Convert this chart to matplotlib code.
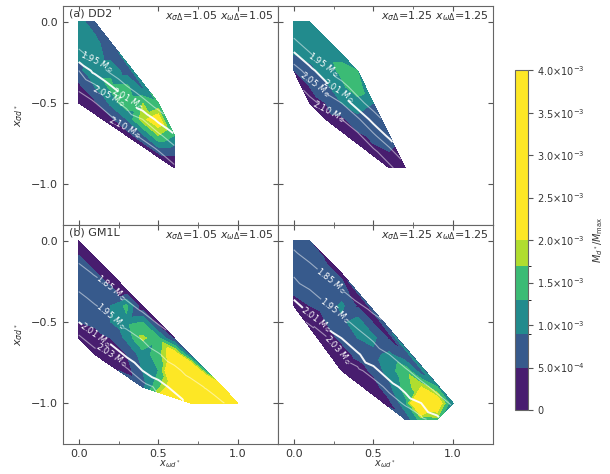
import numpy as np
import matplotlib
matplotlib.use("Agg")
import matplotlib.pyplot as plt
import matplotlib.tri as mtri
from matplotlib.colors import ListedColormap, BoundaryNorm
from matplotlib.cm import ScalarMappable
from matplotlib.ticker import MultipleLocator

n = np.nan

# grid of coupling ratios
x_vals = [0.0, 0.1, 0.2, 0.3, 0.4, 0.5, 0.6, 0.7, 0.8, 0.9, 1.0]
y_vals = [0.0, -0.1, -0.2, -0.3, -0.4, -0.5, -0.6, -0.7, -0.8, -0.9, -1.0, -1.1]

# M_d*/M_max in units of 1e-3, one row per y value, starting at x = 0
frac_dd2_105 = [
    [1.1, 0.6],
    [1.1, 1.0],
    [1.0, 1.1, 0.7],
    [0.8, 1.2, 1.2, 0.7],
    [0.4, 0.9, 1.4, 1.4, 0.8],
    [0.3, 0.4, 1.0, 1.6, 1.7, 1.4],
    [n, n, 0.4, 0.9, 1.9, 2.3],
    [n, n, n, 0.3, 0.8, 1.7, 1.3],
    [n, n, n, n, n, 0.6, 0.6],
    [n, n, n, n, n, n, 0.2],
]
mass_dd2_105 = [
    [1.83, 1.78],
    [1.90, 1.85],
    [1.975, 1.915, 1.865],
    [2.05, 1.997, 1.935, 1.88],
    [2.092, 2.06, 2.017, 1.955, 1.90],
    [2.12, 2.102, 2.07, 2.033, 1.975, 1.915],
    [n, n, 2.108, 2.081, 2.05, 1.997],
    [n, n, n, 2.114, 2.092, 2.06, 2.017],
    [n, n, n, n, n, 2.102, 2.07],
    [n, n, n, n, n, n, 2.108],
]

frac_dd2_125 = [
    [1.2, 1.1],
    [1.1, 1.0, 1.1],
    [0.9, 1.0, 1.2, 1.2],
    [0.5, 0.8, 1.1, 1.4, 1.3],
    [n, 0.5, 0.8, 1.2, 1.6],
    [n, 0.3, 0.5, 0.9, 1.1, 0.9],
    [n, n, 0.3, 0.4, 0.8, 0.9],
    [n, n, n, n, 0.4, 0.6, 0.6],
    [n, n, n, n, n, 0.4, 0.5],
    [n, n, n, n, n, n, 0.3, 0.3],
]
mass_dd2_125 = [
    [1.87, 1.80],
    [1.95, 1.88, 1.81],
    [2.02, 1.96, 1.89, 1.82],
    [2.07, 2.03, 1.97, 1.90, 1.83],
    [n, 2.07, 2.03, 1.98, 1.91],
    [n, 2.12, 2.08, 2.05, 1.98, 1.91],
    [n, n, 2.13, 2.10, 2.06, 1.99],
    [n, n, n, n, 2.11, 2.06, 1.995],
    [n, n, n, n, n, 2.11, 2.07],
    [n, n, n, n, n, n, 2.11, 2.07],
]

frac_gm1l_105 = [
    [0.1],
    [0.55, 0.1],
    [0.7, 0.55, 0.1],
    [0.7, 0.7, 0.6, 0.15],
    [0.6, 0.8, 0.9, 1.4, 0.2],
    [0.5, 0.6, 0.9, 1.2, 1.3, 0.2],
    [0.3, 0.3, 0.5, 1.0, 1.8, 1.4, 0.4],
    [n, 0.2, 0.3, 0.5, 1.1, 1.5, 2.5, 0.7],
    [n, n, n, 0.3, 0.9, 1.3, 3.0, 3.5, 1.2],
    [n, n, n, n, 0.8, 1.6, 2.4, 4.0, 4.0, 2.5],
    [n, n, n, n, n, n, n, 4.0, 4.0, 4.0, 4.0],
]
mass_gm1l_105 = [
    [1.76],
    [1.825, 1.776],
    [1.89, 1.841, 1.79],
    [1.945, 1.904, 1.86, 1.81],
    [1.985, 1.955, 1.92, 1.87, 1.825],
    [2.01, 1.991, 1.965, 1.93, 1.89, 1.84],
    [2.035, 2.015, 1.998, 1.975, 1.945, 1.905, 1.86],
    [n, 2.04, 2.03, 2.005, 1.985, 1.955, 1.92, 1.87],
    [n, n, n, 2.035, 2.01, 1.99, 1.965, 1.93, 1.89],
    [n, n, n, n, 2.04, 2.025, 2.0, 1.975, 1.945, 1.905],
    [n, n, n, n, n, n, n, 2.005, 1.985, 1.955, 1.92],
]

frac_gm1l_125 = [
    [0.6, 0.5],
    [0.8, 0.8, 0.45],
    [0.7, 0.7, 0.6, 0.45],
    [0.6, 0.6, 0.7, 0.6],
    [0.3, 0.5, 0.6, 1.0, 0.45],
    [n, 0.3, 0.5, 0.8, 1.1, 0.45],
    [n, n, 0.3, 0.6, 0.9, 1.0, 0.45],
    [n, n, n, 0.3, 0.6, 0.8, 1.0, 0.5],
    [n, n, n, 0.2, 0.3, 0.6, 1.1, 1.6, 0.6],
    [n, n, n, n, n, 0.3, 0.8, 1.5, 2.0, 1.3],
    [n, n, n, n, n, n, 0.4, 1.2, 3.5, 2.5, 0.9],
    [n, n, n, n, n, n, n, 0.6, 1.5, 1.6],
]
mass_gm1l_125 = [
    [1.82, 1.77],
    [1.875, 1.83, 1.78],
    [1.94, 1.89, 1.84, 1.80],
    [1.985, 1.95, 1.90, 1.85],
    [2.025, 1.99, 1.96, 1.915, 1.86],
    [n, 2.028, 2.00, 1.97, 1.93, 1.875],
    [n, n, 2.035, 2.01, 1.978, 1.94, 1.89],
    [n, n, n, 2.029, 2.015, 1.985, 1.95, 1.90],
    [n, n, n, 2.045, 2.035, 2.02, 1.99, 1.96, 1.915],
    [n, n, n, n, n, 2.04, 2.024, 2.00, 1.97, 1.93],
    [n, n, n, n, n, n, 2.04, 2.027, 2.01, 1.978, 1.94],
    [n, n, n, n, n, n, n, 2.045, 2.035, 2.02],
]

frac_levels = [0, 0.5e-3, 0.9e-3, 1.3e-3, 1.7e-3, 2.0e-3, 4.0e-3]
mass_levels_dd2 = [1.95, 2.01, 2.05, 2.10]
mass_levels_gm1l = [1.85, 1.95, 2.01, 2.03]
cbar_ticks = [0, 0.5e-3, 1.0e-3, 1.5e-3, 2.0e-3, 2.5e-3, 3.0e-3, 3.5e-3, 4.0e-3]
cbar_labels = ["0", r"5.0$\times10^{-4}$", r"1.0$\times10^{-3}$", r"1.5$\times10^{-3}$",
               r"2.0$\times10^{-3}$", r"2.5$\times10^{-3}$", r"3.0$\times10^{-3}$",
               r"3.5$\times10^{-3}$", r"4.0$\times10^{-3}$"]

# where the mass labels sit, one point per level
label_pos = [
    [(0.12, -0.22), (0.32, -0.43), (0.2, -0.42), (0.3, -0.63)],
    [(0.21, -0.22), (0.3, -0.38), (0.15, -0.36), (0.21, -0.58)],
    [(0.21, -0.28), (0.21, -0.46), (0.12, -0.57), (0.19, -0.72)],
    [(0.23, -0.25), (0.25, -0.44), (0.12, -0.52), (0.27, -0.68)],
]

panels = [
    ("(a) DD2", "1.05", frac_dd2_105, mass_dd2_105, mass_levels_dd2),
    (None, "1.25", frac_dd2_125, mass_dd2_125, mass_levels_dd2),
    ("(b) GM1L", "1.05", frac_gm1l_105, mass_gm1l_105, mass_levels_gm1l),
    (None, "1.25", frac_gm1l_125, mass_gm1l_125, mass_levels_gm1l),
]

cols = [plt.cm.viridis(v) for v in [0.08, 0.28, 0.48, 0.68, 0.88, 1.0]]
cmap = ListedColormap(cols)
norm = BoundaryNorm(frac_levels, cmap.N)
txt = "#333333"


def grid(rows):
    out = np.full((len(y_vals), len(x_vals)), np.nan)
    for i, r in enumerate(rows):
        out[i, :len(r)] = r
    return out


fig = plt.figure(figsize=(6.1, 4.74), dpi=100)
X, Y = np.meshgrid(x_vals, y_vals)
left, w = 0.103, 0.3525
bot, h = 0.064, 0.462

for k, (tag, xd, frac, mass, mlev) in enumerate(panels):
    r, c = divmod(k, 2)
    ax = fig.add_axes([left + c * w, bot + (1 - r) * h, w, h])
    F = grid(frac)
    M = grid(mass)
    ok = ~np.isnan(F)
    tri = mtri.Triangulation(X[ok], Y[ok])
    z = np.minimum(F[ok] * 1e-3, 3.99e-3)
    ax.tricontourf(tri, z, levels=frac_levels, colors=cols)
    for lv, pos in zip(mlev, label_pos[k]):
        if lv == 2.01:
            lc, lw = (1, 1, 1, 0.95), 1.4
        else:
            lc, lw = (1, 1, 1, 0.5), 0.8
        cs = ax.tricontour(tri, M[ok], levels=[lv], colors=[lc], linewidths=lw)
        ax.clabel(cs, fmt=lambda v: "%.2f $M_\\odot$" % v, fontsize=6,
                  colors="w", inline=True, manual=[pos])

    ax.set_xlim(-0.1, 1.25)
    ax.set_ylim(-1.25, 0.1)
    ax.xaxis.set_major_locator(MultipleLocator(0.5))
    ax.xaxis.set_minor_locator(MultipleLocator(0.25))
    ax.yaxis.set_major_locator(MultipleLocator(0.5))
    ax.tick_params(which="both", direction="in", top=True, right=True,
                   labelsize=8, labelcolor=txt, color="#555555")
    for s in ax.spines.values():
        s.set_color("#666666")
    if r == 0:
        ax.tick_params(labelbottom=False)
    else:
        ax.set_xlabel(r"$x_{\omega d^*}$", fontsize=7, color=txt, labelpad=0)
    if c == 1:
        ax.tick_params(labelleft=False)
    else:
        ax.set_ylabel(r"$x_{\sigma d^*}$", fontsize=8, color=txt)
    if tag:
        ax.text(0.03, 0.985, tag, transform=ax.transAxes, ha="left", va="top",
                fontsize=8, color=txt)
    ax.text(0.98, 0.985, r"$x_{\sigma\Delta}$=%s $x_{\omega\Delta}$=%s" % (xd, xd),
            transform=ax.transAxes, ha="right", va="top", fontsize=8, color=txt)

cax = fig.add_axes([0.844, 0.135, 0.021, 0.717])
sm = ScalarMappable(norm=norm, cmap=cmap)
cb = fig.colorbar(sm, cax=cax, spacing="proportional", ticks=cbar_ticks)
cb.ax.set_yticklabels(cbar_labels)
cb.ax.tick_params(labelsize=7, labelcolor=txt, color="#555555")
cb.outline.set_edgecolor("#666666")
cb.set_label(r"$M_{d^*}/M_{\rm max}$", fontsize=7, color=txt)

fig.savefig("out.png", dpi=100)
